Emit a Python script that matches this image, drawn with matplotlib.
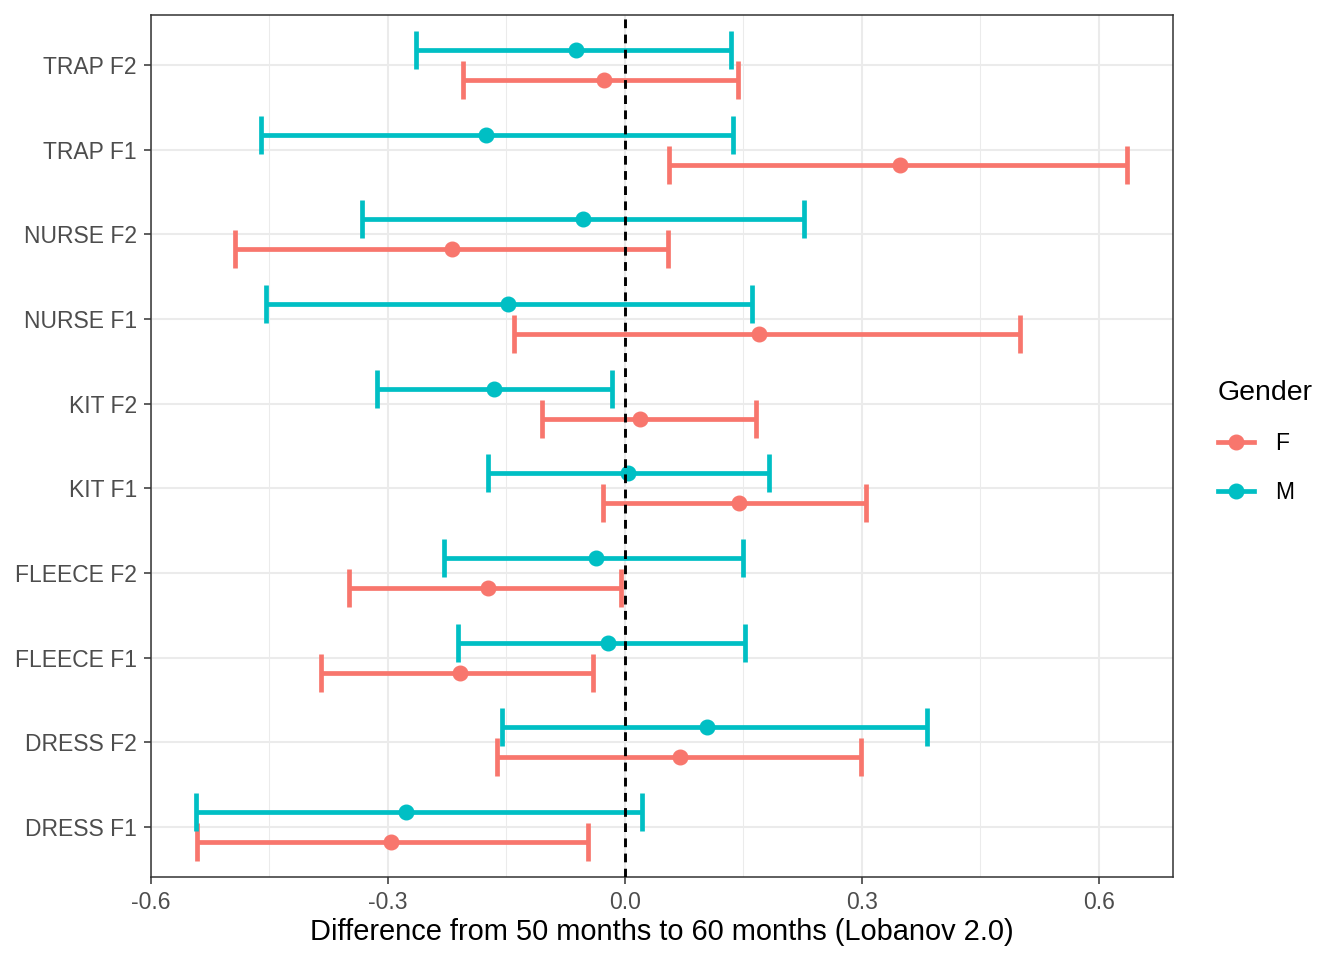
import numpy as np
import matplotlib.pyplot as plt
from matplotlib.lines import Line2D

plt.rcParams['font.family'] = ['Liberation Sans', 'DejaVu Sans']

# categories from bottom to top
items = ["DRESS F1", "DRESS F2", "FLEECE F1", "FLEECE F2", "KIT F1",
         "KIT F2", "NURSE F1", "NURSE F2", "TRAP F1", "TRAP F2"]

# female estimates and confidence bounds
f_est = [-0.296, 0.070, -0.209, -0.173, 0.144, 0.019, 0.170, -0.219, 0.348, -0.027]
f_low = [-0.542, -0.162, -0.385, -0.349, -0.028, -0.105, -0.140, -0.494, 0.056, -0.205]
f_high = [-0.047, 0.299, -0.041, -0.005, 0.305, 0.166, 0.500, 0.054, 0.635, 0.143]

# male estimates and confidence bounds
m_est = [-0.277, 0.104, -0.022, -0.037, 0.004, -0.166, -0.148, -0.053, -0.176, -0.062]
m_low = [-0.543, -0.156, -0.211, -0.229, -0.173, -0.314, -0.454, -0.333, -0.461, -0.265]
m_high = [0.022, 0.382, 0.152, 0.149, 0.182, -0.017, 0.161, 0.227, 0.137, 0.134]

xticks = [-0.6, -0.3, 0.0, 0.3, 0.6]
xtick_labels = ["-0.6", "-0.3", "0.0", "0.3", "0.6"]

col_f = "#F8766D"
col_m = "#00BFC4"

fig = plt.figure(figsize=(13.44, 9.6), dpi=100)
ax = fig.add_axes([151 / 1344, 83 / 960, 1022 / 1344, 862 / 960])

y = np.arange(1, len(items) + 1)
dodge = 0.177

for est, low, high, off, col, lab in [
        (f_est, f_low, f_high, -dodge, col_f, "F"),
        (m_est, m_low, m_high, dodge, col_m, "M")]:
    est = np.array(est)
    err = [est - np.array(low), np.array(high) - est]
    ax.errorbar(est, y + off, xerr=err, fmt='o', color=col, ecolor=col,
                elinewidth=3.4, capsize=13.5, capthick=3.4, markersize=10.5,
                zorder=3, label=lab)

ax.axvline(0, color='black', linestyle=(0, (3, 2.2)), linewidth=2.1, zorder=4)

ax.set_xlim(-0.6, 0.6937)
ax.set_ylim(0.41, 10.59)
ax.set_xticks(xticks)
ax.set_xticklabels(xtick_labels)
ax.set_xticks([-0.45, -0.15, 0.15, 0.45], minor=True)
ax.set_yticks(y)
ax.set_yticklabels(items)

ax.grid(which='major', color='#EBEBEB', linewidth=1.5, zorder=0)
ax.grid(which='minor', axis='x', color='#EBEBEB', linewidth=0.75, zorder=0)
ax.set_axisbelow(True)

for s in ax.spines.values():
    s.set_color('#333333')
    s.set_linewidth(1.1)

ax.tick_params(which='major', length=5.3, width=1.1, color='#333333',
               labelsize=16.5, labelcolor='#4D4D4D', pad=4.8)
ax.tick_params(which='minor', length=0)

ax.set_xlabel("Difference from 50 months to 60 months (Lobanov 2.0)",
              fontsize=20.9, color='black', labelpad=3)

handles = [Line2D([], [], color=col_f, lw=3.4, marker='o', markersize=10.5),
           Line2D([], [], color=col_m, lw=3.4, marker='o', markersize=10.5)]
leg = fig.legend(handles, ["F", "M"], title="Gender", loc='center left',
                 bbox_to_anchor=(1197 / 1344, 1 - 442 / 960), frameon=False,
                 fontsize=16.5, title_fontsize=20.5, handlelength=1.6,
                 labelspacing=1.15, handletextpad=0.9)
leg._legend_box.align = "left"

fig.savefig("out.png", dpi=100)
